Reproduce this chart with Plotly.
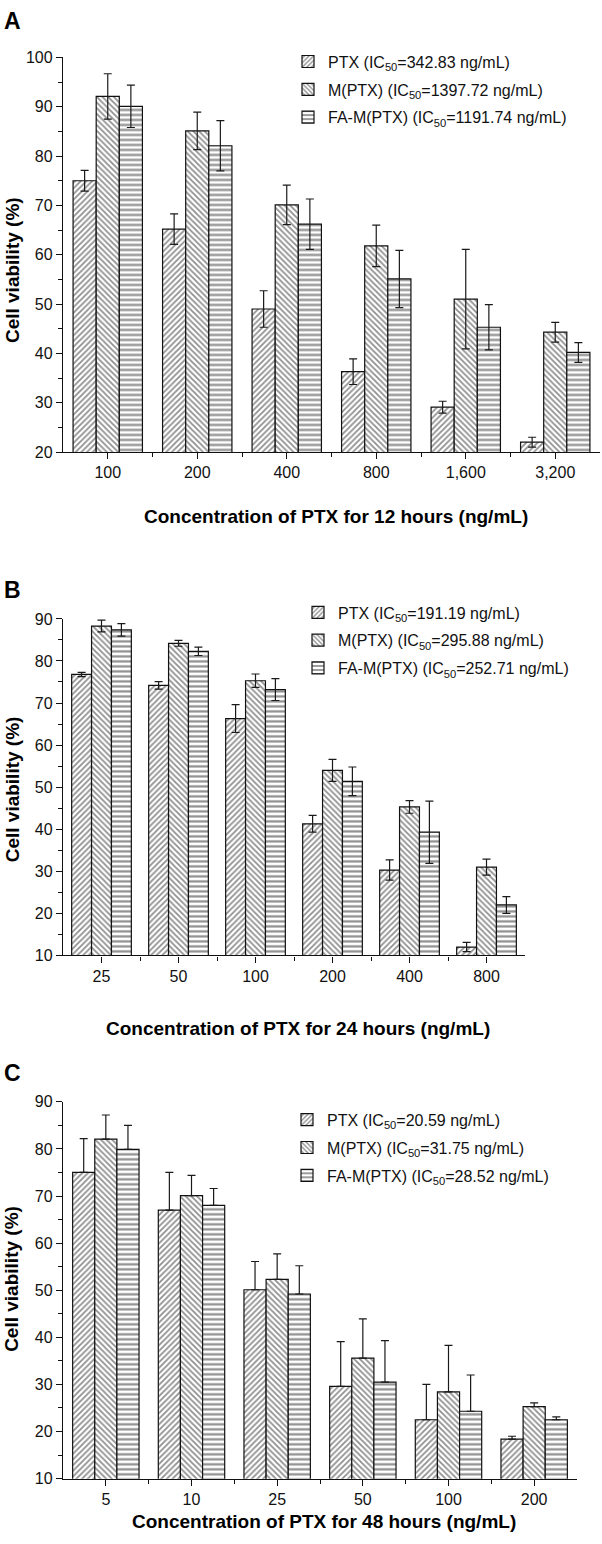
import plotly.graph_objects as go

W, H = 602, 1544
FONT = "Liberation Sans, Arial, sans-serif"

series = ["PTX", "M(PTX)", "FA-M(PTX)"]
patterns = ["/", "\\", "-"]

# Panel A: 12 hours
conc_a = ["100", "200", "400", "800", "1,600", "3,200"]
ic50_a = ["342.83", "1397.72", "1191.74"]
ptx_a = [75.0, 65.2, 49.0, 36.3, 29.1, 22.0]
ptx_a_err = [2.1, 3.1, 3.7, 2.6, 1.2, 1.0]
m_a = [92.1, 85.1, 70.1, 61.8, 51.0, 44.3]
m_a_err = [4.6, 3.8, 4.0, 4.2, 10.1, 2.0]
fa_a = [90.1, 82.1, 66.2, 55.1, 45.3, 40.2]
fa_a_err = [4.3, 5.1, 5.1, 5.8, 4.6, 2.0]

# Panel B: 24 hours
conc_b = ["25", "50", "100", "200", "400", "800"]
ic50_b = ["191.19", "295.88", "252.71"]
ptx_b = [76.8, 74.2, 66.3, 41.3, 30.3, 12.0]
ptx_b_err = [0.5, 0.9, 3.3, 2.0, 2.4, 1.1]
m_b = [88.3, 84.2, 75.3, 54.0, 45.3, 31.0]
m_b_err = [1.4, 0.7, 1.6, 2.6, 1.5, 1.9]
fa_b = [87.4, 82.3, 73.2, 51.4, 39.3, 22.0]
fa_b_err = [1.5, 1.0, 2.6, 3.4, 7.4, 2.0]

# Panel C: 48 hours (upper error bars only)
conc_c = ["5", "10", "25", "50", "100", "200"]
ic50_c = ["20.59", "31.75", "28.52"]
ptx_c = [75.0, 67.0, 50.1, 29.6, 22.5, 18.4]
ptx_c_err = [7.2, 8.0, 6.0, 9.5, 7.5, 0.6]
m_c = [82.1, 70.1, 52.3, 35.6, 28.4, 25.3]
m_c_err = [5.1, 4.3, 5.4, 8.3, 9.9, 0.8]
fa_c = [79.9, 68.0, 49.2, 30.5, 24.3, 22.5]
fa_c_err = [5.1, 3.6, 6.0, 8.8, 7.7, 0.6]


def py(px):
    return 1 - px / H


def pxx(px):
    return px / W


panels = [
    dict(conc=conc_a, ic=ic50_a, vals=[ptx_a, m_a, fa_a], errs=[ptx_a_err, m_a_err, fa_a_err],
         sym=True, x0=63, x1=600, ytop=50, ybot=449, yr=[20, 100], letter="A", ly=13,
         ytitle_y=265, xlab_y=514, title="Concentration of PTX for 12 hours (ng/mL)",
         leg_x=288, leg_y=37),
    dict(conc=conc_b, ic=ic50_b, vals=[ptx_b, m_b, fa_b], errs=[ptx_b_err, m_b_err, fa_b_err],
         sym=True, x0=63, x1=525, ytop=617.7, ybot=958, yr=[10, 90], letter="B", ly=588,
         ytitle_y=790, xlab_y=1032, title="Concentration of PTX for 24 hours (ng/mL)",
         leg_x=298, leg_y=594),
    dict(conc=conc_c, ic=ic50_c, vals=[ptx_c, m_c, fa_c], errs=[ptx_c_err, m_c_err, fa_c_err],
         sym=False, x0=63, x1=577, ytop=1106, ybot=1487, yr=[10, 90], letter="C", ly=1077,
         ytitle_y=1285, xlab_y=1530, title="Concentration of PTX for 48 hours (ng/mL)",
         leg_x=287, leg_y=1107),
]

fig = go.Figure()
annotations = []
layout = {}

for i, p in enumerate(panels):
    n = i + 1
    xa = "x" if n == 1 else f"x{n}"
    ya = "y" if n == 1 else f"y{n}"
    leg = "legend" if n == 1 else f"legend{n}"
    xpos = list(range(len(p["conc"])))
    for s, (name, pat) in enumerate(zip(series, patterns)):
        err = dict(type="data", array=p["errs"][s], color="#1a1a1a", thickness=1.2, width=4)
        if p["sym"]:
            err["symmetric"] = True
        else:
            err["symmetric"] = False
            err["arrayminus"] = [0] * len(p["errs"][s])
        fig.add_trace(go.Bar(
            x=xpos, y=p["vals"][s], name=f"{name} (IC<sub>50</sub>={p['ic'][s]} ng/mL)",
            xaxis=xa, yaxis=ya, legend=leg, legendgroup=f"{n}-{s}",
            marker=dict(color="white", line=dict(color="#111", width=1.2),
                        pattern=dict(shape=pat, fgcolor="#202020", bgcolor="white",
                                     size=5 if pat == "-" else 4, solidity=0.45)),
            error_y=err,
        ))
    xk = "xaxis" if n == 1 else f"xaxis{n}"
    yk = "yaxis" if n == 1 else f"yaxis{n}"
    nc = len(p["conc"])
    layout[xk] = dict(
        domain=[pxx(p["x0"]), pxx(p["x1"])], anchor=ya, range=[-0.5, nc - 0.5],
        tickmode="array", tickvals=xpos, ticktext=p["conc"],
        showline=True, linecolor="#111", linewidth=1.3, ticks="outside", ticklen=6,
        tickwidth=1.3, tickcolor="#111", showgrid=False, zeroline=False,
        tickfont=dict(family=FONT, size=16, color="#111"),
        minor=dict(tickvals=[k + 0.5 for k in range(nc - 1)], ticks="outside", ticklen=4,
                   tickwidth=1.3, tickcolor="#111", showgrid=False),
    )
    layout[yk] = dict(
        domain=[py(p["ybot"]), py(p["ytop"])], anchor=xa, range=p["yr"],
        dtick=10, showline=True, linecolor="#111", linewidth=1.3, ticks="outside",
        ticklen=6, tickwidth=1.3, tickcolor="#111", showgrid=False, zeroline=False,
        tickfont=dict(family=FONT, size=16, color="#111"),
        minor=dict(dtick=5, ticks="outside", ticklen=4, tickwidth=1.3, tickcolor="#111",
                   showgrid=False),
    )
    layout[leg] = dict(
        x=pxx(p["leg_x"]), y=py(p["leg_y"]), xanchor="left", yanchor="top",
        bgcolor="rgba(0,0,0,0)", font=dict(family=FONT, size=16, color="#111"),
        traceorder="grouped", tracegroupgap=4, itemwidth=30,
    )
    annotations.append(dict(text=f"<b>{p['letter']}</b>", x=pxx(2), y=py(p["ly"]),
                            xref="paper", yref="paper", xanchor="left", yanchor="middle",
                            showarrow=False, font=dict(family=FONT, size=23, color="#000")))
    annotations.append(dict(text="<b>Cell viability (%)</b>", x=pxx(12), y=py(p["ytitle_y"]),
                            xref="paper", yref="paper", xanchor="center", yanchor="middle",
                            textangle=-90, showarrow=False,
                            font=dict(family=FONT, size=19, color="#000")))
    annotations.append(dict(text=f"<b>{p['title']}</b>", x=pxx((p["x0"] + p["x1"]) / 2 + 4),
                            y=py(p["xlab_y"]), xref="paper", yref="paper",
                            xanchor="center", yanchor="middle", showarrow=False,
                            font=dict(family=FONT, size=19, color="#000")))

fig.update_layout(
    width=W, height=H, margin=dict(l=0, r=0, t=0, b=0),
    paper_bgcolor="white", plot_bgcolor="white",
    barmode="group", bargap=0.225, bargroupgap=0,
    annotations=annotations, showlegend=True,
    **layout,
)

fig.write_html("out.html", config={"displayModeBar": False},
               post_script="document.body.style.margin='0';")
